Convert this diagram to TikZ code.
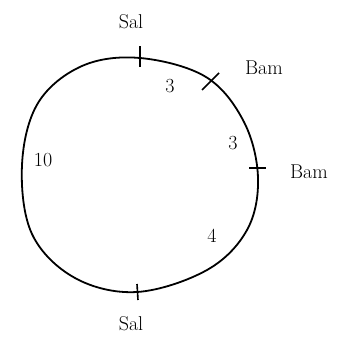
\documentclass[tikz,border=0pt]{standalone}
\begin{document}
\begin{tikzpicture}[x=1pt,y=-1pt,
  loop/.style={line width=1.8pt,black},
  tick/.style={line width=1.6pt,black},
  lbl/.style={font=\fontsize{20}{20}\selectfont,inner sep=1pt}]
\useasboundingbox[fill=white] (0,0) rectangle (343,340);
\draw[loop] plot[smooth cycle,tension=0.6] coordinates {
 (140,58) (206,77) (244,122) (258,178) (247,230) (207,270) (137,292)
 (75,278) (32,234) (22,165) (38,103) (82,66)};
% ticks
\coordinate (t1a) at (140,46); \coordinate (t1b) at (140,67);
\coordinate (t2a) at (202,90); \coordinate (t2b) at (219,73);
\coordinate (t3a) at (249,168); \coordinate (t3b) at (266,168);
\coordinate (t4a) at (137,284); \coordinate (t4b) at (138,300);
\draw[tick] (t1a) -- (t1b);
\draw[tick] (t2a) -- (t2b);
\draw[tick] (t3a) -- (t3b);
\draw[tick] (t4a) -- (t4b);
% labels
\node[lbl] (sal1) at (131,22) {Sal};
\node[lbl] (bam1) at (264,68) {Bam};
\node[lbl] (n1) at (170,86) {3};
\node[lbl] (n2) at (233,143) {3};
\node[lbl] (bam2) at (309,172) {Bam};
\node[lbl] (n3) at (43,160) {10};
\node[lbl] (n4) at (212,236) {4};
\node[lbl] (sal2) at (131,324) {Sal};
\end{tikzpicture}
\end{document}
